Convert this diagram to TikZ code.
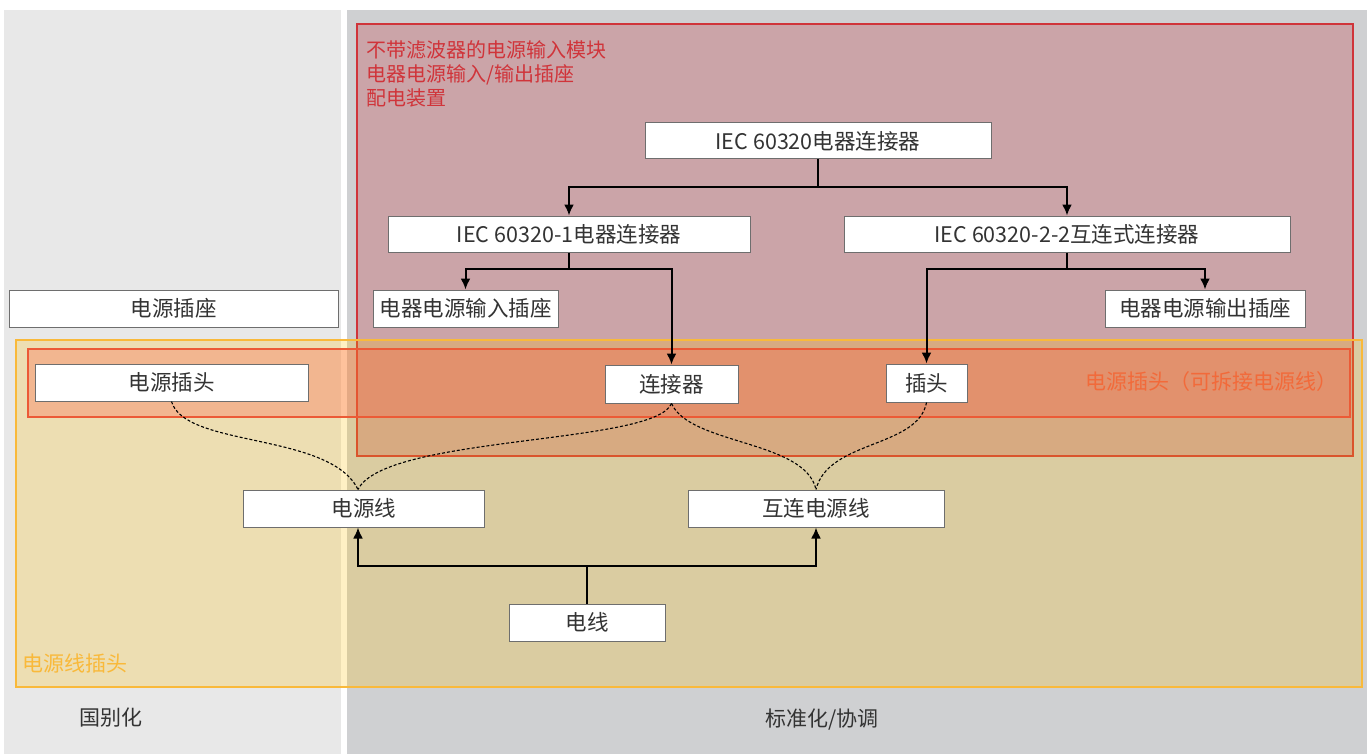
\documentclass[tikz,border=0pt]{standalone}
\usepackage{fontspec}
\setmainfont{Noto Sans CJK SC}
\usetikzlibrary{arrows.meta,calc}
\definecolor{leftbg}{HTML}{E8E8E8}
\definecolor{rightbg}{HTML}{CFD0D2}
\definecolor{redfill}{RGB}{192,36,44}
\definecolor{redline}{HTML}{D0343A}
\definecolor{yelfill}{RGB}{255,192,0}
\definecolor{yelline}{HTML}{F9B93A}
\definecolor{orafill}{RGB}{254,90,66}
\definecolor{oraline}{HTML}{EC5A36}
\definecolor{oratext}{HTML}{F26A3A}
\definecolor{redtext}{HTML}{D0343A}
\definecolor{boxline}{HTML}{6E6E6E}
\definecolor{txt}{HTML}{333333}
\tikzset{
  box/.style={draw=boxline, line width=1pt, fill=white, inner sep=0pt, text=txt,
    font=\fontsize{21.5}{24}\selectfont},
  arr/.style={line width=2pt, -{Latex[length=11pt,width=10pt]}},
  plainline/.style={line width=2pt},
  dashcurve/.style={line width=1.1pt, dash pattern=on 3pt off 2pt},
  lbl/.style={inner sep=0pt, font=\fontsize{21}{24}\selectfont}
}
\begin{document}
\begin{tikzpicture}[x=1pt,y=-1pt]
\fill[white] (0,0) rectangle (1367,754);
\useasboundingbox (0,0) rectangle (1367,754);
% backgrounds
\fill[leftbg] (4,10) rectangle (341,754);
\fill[rightbg] (347,10) rectangle (1367,754);
% regions
\filldraw[fill=redfill, fill opacity=0.25, draw=redline, line width=1.5pt] (357,24) rectangle (1353,456);
\filldraw[fill=yelfill, fill opacity=0.23, draw=yelline, line width=1.5pt] (16,340) rectangle (1362,687);
\filldraw[fill=orafill, fill opacity=0.3, draw=oraline, line width=2pt] (28,349) rectangle (1350,417);
% region labels
\node[lbl, anchor=west, text=redtext, align=left, font=\fontsize{20}{24}\selectfont] (redlbl) at (366,74) {不带滤波器的电源输入模块\\电器电源输入/输出插座\\配电装置};
\node[lbl, anchor=east, text=oratext] (oralbl) at (1338,382) {电源插头（可拆接电源线）};
\node[lbl, anchor=west, text=yelline] (yellbl) at (22,664) {电源线插头};
\node[lbl, text=txt] (natl) at (111,718) {国别化};
\node[lbl, text=txt] (std) at (822,720) {标准化/协调};
% boxes
\node[box, minimum width=346pt, minimum height=36pt] (iec) at (818,141) {IEC 60320电器连接器};
\node[box, minimum width=362pt, minimum height=36pt] (iec1) at (569,234) {IEC 60320-1电器连接器};
\node[box, minimum width=446pt, minimum height=36pt] (iec22) at (1067,234) {IEC 60320-2-2互连式连接器};
\node[box, minimum width=185pt, minimum height=37pt] (inlet) at (465.5,308.5) {电器电源输入插座};
\node[box, minimum width=200pt, minimum height=37pt] (outlet) at (1205,308.5) {电器电源输出插座};
\node[box, minimum width=329pt, minimum height=37pt] (socket) at (173.5,308.5) {电源插座};
\node[box, minimum width=273pt, minimum height=37pt] (plug) at (171.5,382.5) {电源插头};
\node[box, minimum width=133pt, minimum height=38pt] (conn) at (671.5,384) {连接器};
\node[box, minimum width=81pt, minimum height=38pt] (iplug) at (926.5,383) {插头};
\node[box, minimum width=241pt, minimum height=37pt] (cord) at (364,508.5) {电源线};
\node[box, minimum width=256pt, minimum height=37pt] (icord) at (816,508.5) {互连电源线};
\node[box, minimum width=156pt, minimum height=37pt] (wire) at (587,622.5) {电线};
% tree connectors
\coordinate (j0) at ($(iec.south)+(0,28)$);
\draw[plainline] (iec.south) -- (j0);
\draw[arr] (j0) -| (iec1.north);
\draw[arr] (j0) -| (iec22.north);
\coordinate (j1) at ($(iec1.south)+(0,16)$);
\draw[plainline] (iec1.south) -- (j1);
\draw[arr] (j1) -| (inlet.north);
\draw[arr] (j1) -| (conn.north);
\coordinate (j2) at ($(iec22.south)+(0,16)$);
\draw[plainline] (iec22.south) -- (j2);
\draw[arr] (j2) -| (iplug.north);
\draw[arr] (j2) -| (outlet.north);
\coordinate (j3) at ($(wire.north)+(0,-38)$);
\coordinate (cordin) at ([xshift=-6pt]cord.south);
\draw[plainline] (wire.north) -- (j3);
\draw[arr] (j3) -| (cordin);
\draw[arr] (j3) -| (icord.south);
% dashed relations
\coordinate (cordtop) at ([xshift=-6pt]cord.north);
\draw[dashcurve] (plug.south) .. controls (185,448) and (330,432) .. (cordtop);
\draw[dashcurve] (conn.south) .. controls (655,445) and (385,435) .. (cordtop);
\draw[dashcurve] (conn.south) .. controls (690,445) and (805,440) .. (icord.north);
\draw[dashcurve] (iplug.south) .. controls (918,448) and (828,440) .. (icord.north);
\end{tikzpicture}
\end{document}
